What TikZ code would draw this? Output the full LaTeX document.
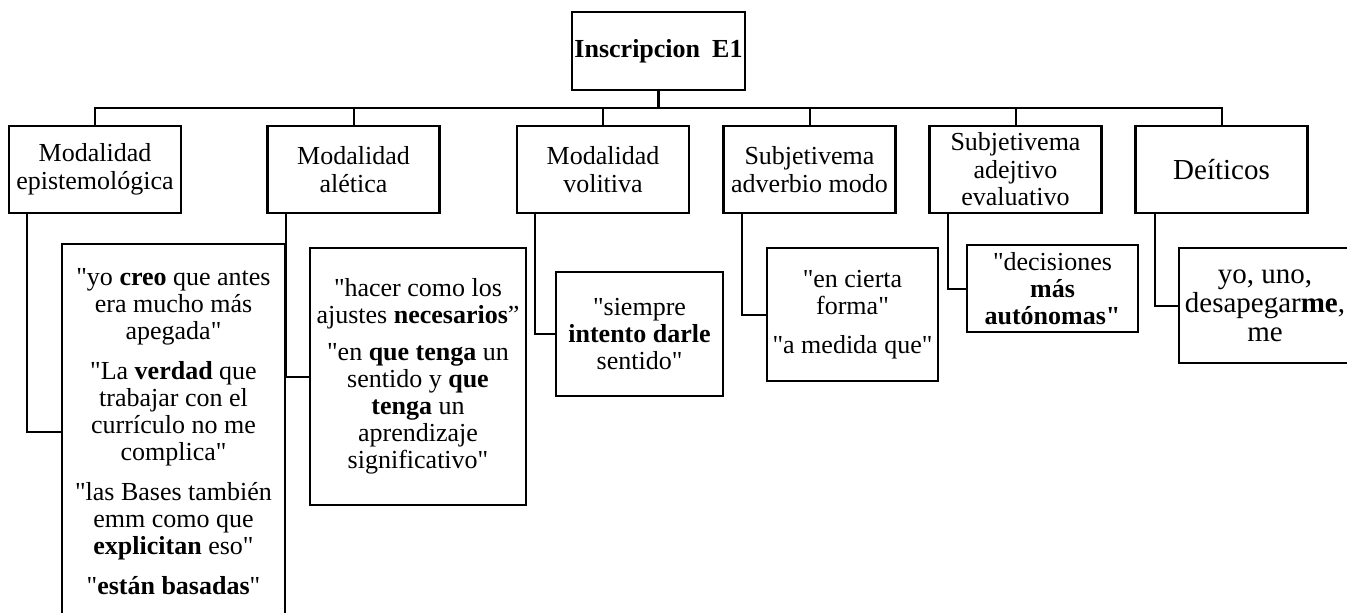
\documentclass[tikz,border=0pt]{standalone}
\usepackage{fontspec}
\setmainfont{Liberation Serif}[Ligatures=TeXOff]
\begin{document}
\begin{tikzpicture}[x=1pt,y=-1pt,
  box/.style={draw, line width=2.2pt, inner sep=0pt, outer sep=0pt, align=center,
    font=\fontsize{26}{28.5}\selectfont, minimum width=172pt, minimum height=87pt},
  qbox/.style={draw, line width=2.2pt, inner sep=0pt, outer sep=0pt, align=center,
    font=\fontsize{26}{27}\selectfont},
  link/.style={line width=2pt}]
\useasboundingbox (0,0) rectangle (1347,613);
\clip (0,0) rectangle (1347,613);

% root
\node[box, minimum width=173pt, minimum height=78pt,
  font=\fontsize{26}{28}\selectfont\bfseries] (root) at (658.5,51) {Inscripcion\hspace{12pt}E1};

% level 1
\node[box] (epi) at (95,169.5) {Modalidad\\epistemológica};
\node[box] (ale) at (353.5,169.5) {Modalidad\\alética};
\node[box] (vol) at (603,169.5) {Modalidad\\volitiva};
\node[box] (adv) at (809.5,169.5) {Subjetivema\\adverbio modo};
\node[box, font=\fontsize{26}{27.5}\selectfont] (adj) at (1015.5,169.5) {Subjetivema\\adejtivo\\evaluativo};
\node[box, font=\fontsize{29}{30}\selectfont] (dei) at (1221.5,169.5) {Deíticos};

% quotes
\node[qbox, minimum width=223pt, minimum height=376pt] (q1) at (173.5,432)
  {"yo \textbf{creo} que antes\\era mucho más\\apegada"\\[13pt]"La \textbf{verdad} que\\trabajar con el\\currículo no me\\complica"\\[13pt]"las Bases también\\emm como que\\\textbf{explicitan} eso"\\[13pt]"\textbf{están basadas}"};
\node[qbox, minimum width=216pt, minimum height=257pt] (q2) at (418,376.5)
  {"hacer como los\\ajustes \textbf{necesarios}”\\[10pt]"en \textbf{que tenga} un\\sentido y \textbf{que}\\\textbf{tenga} un\\aprendizaje\\significativo"};
\node[qbox, minimum width=167pt, minimum height=124pt] (q3) at (639.5,334)
  {"siempre\\\textbf{intento darle}\\sentido"};
\node[qbox, minimum width=171pt, minimum height=133pt] (q4) at (852.5,314.5)
  {"en cierta\\forma"\\[12pt]"a medida que"};
\node[qbox, minimum width=171pt, minimum height=87pt] (q5) at (1052.5,288.5)
  {"decisiones\\\textbf{más}\\\textbf{autónomas"}};
\node[qbox, minimum width=172pt, minimum height=115pt, font=\fontsize{29}{29}\selectfont] (q6) at (1265,305.5)
  {yo, uno,\\desapegar\textbf{me},\\me};

% tree connectors
\coordinate (bar) at (658,108);
\draw[line width=3pt] (root.south) -- (root.south |- bar);
\draw[link] (epi.north) -- (epi.north |- bar) -- (dei.north |- bar) -- (dei.north);
\foreach \n in {ale,vol,adv,adj} \draw[link] (\n.north) -- (\n.north |- bar);

% quote connectors
\draw[link] ([xshift=18pt]epi.south west) |- (q1.west);
\draw[link] ([xshift=18pt]ale.south west) |- (q2.west);
\draw[link] ([xshift=18pt]vol.south west) |- (q3.west);
\draw[link] ([xshift=18pt]adv.south west) |- (q4.west);
\draw[link] ([xshift=18pt]adj.south west) |- (q5.west);
\draw[link] ([xshift=19pt]dei.south west) |- (q6.west);
\end{tikzpicture}
\end{document}
